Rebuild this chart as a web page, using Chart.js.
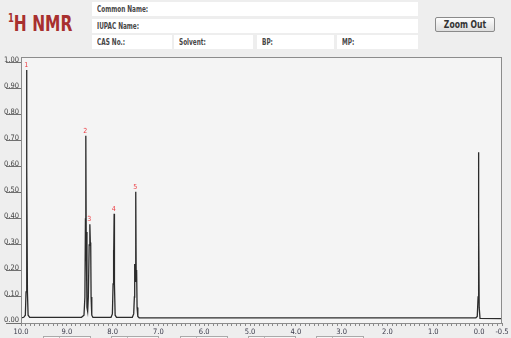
<!DOCTYPE html>
<html>
<head>
<meta charset="utf-8">
<script src="https://cdn.jsdelivr.net/npm/chart.js@4"></script>
<style>
    body { margin: 0; background: #eeeeee; font-family: "Liberation Sans Narrow", "DejaVu Sans Condensed", sans-serif; }
    #wrap { position: relative; width: 511px; height: 338px; overflow: hidden; }
    .title { position: absolute; left: 8px; top: 11px; color: #a8302f; font-weight: bold; font-size: 22px; white-space: nowrap;
             transform: scaleX(0.78); transform-origin: left top; }
    .title sup { font-size: 12px; position: relative; top: -1px; }
    .field { position: absolute; height: 14px; background: #ffffff; box-sizing: border-box; padding-left: 5px;
             font-size: 8px; line-height: 15px; }
    .field span { display: block; font-weight: bold; color: #474747; white-space: nowrap;
                  transform: scaleX(0.8); transform-origin: left center; }
    .btn { position: absolute; left: 435px; top: 17px; width: 60px; height: 15px; box-sizing: border-box; border: 1px solid #8a8a8a; border-radius: 2px;
           background: linear-gradient(#fdfdfd, #dedede); font-size: 10px; line-height: 13px; }
    .btn span { display: block; text-align: center; font-weight: bold; color: #333; transform: scaleX(0.85); }
    .stub { position: absolute; top: 336px; width: 48px; height: 10px; box-sizing: border-box; border: 1px solid #aaaaaa; background: #f7f7f7; }
    .stub::after { content: ""; position: absolute; left: 15px; top: 0; height: 10px; border-left: 1px solid #bbbbbb; }
    #chartBox { position: absolute; left: 0; top: 50px; width: 511px; height: 288px; }
</style>
</head>
<body>
<div id="wrap">
    <div class="title"><sup>1</sup>H NMR</div>
    <div class="field" style="left:92px;top:2px;width:326px;"><span>Common Name:</span></div>
    <div class="field" style="left:92px;top:19px;width:326px;"><span>IUPAC Name:</span></div>
    <div class="field" style="left:92px;top:35px;width:80px;"><span>CAS No.:</span></div>
    <div class="field" style="left:174px;top:35px;width:79px;"><span>Solvent:</span></div>
    <div class="field" style="left:257px;top:35px;width:77px;"><span>BP:</span></div>
    <div class="field" style="left:337px;top:35px;width:81px;"><span>MP:</span></div>
    <div class="btn"><span>Zoom Out</span></div>
    <div class="stub" style="left:43px;"></div>
    <div class="stub" style="left:111px;"></div>
    <div class="stub" style="left:180px;"></div>
    <div class="stub" style="left:248px;"></div>
    <div class="stub" style="left:316px;"></div>
    <div id="chartBox"><canvas id="nmrChart"></canvas></div>
</div>
<script>
// spectrum (chemical shift in ppm, relative intensity)
const shiftPpm = [
    10.00, 9.94, 9.905, 9.89, 9.88, 9.875, 9.870, 9.860, 9.845, 9.81,
    8.68, 8.625, 8.605, 8.593, 8.585, 8.577, 8.560, 8.545, 8.530, 8.512, 8.497, 8.487, 8.478, 8.470, 8.455, 8.43,
    8.035, 8.005, 7.990, 7.982, 7.975, 7.967, 7.960, 7.945, 7.915,
    7.57, 7.54, 7.525, 7.518, 7.510, 7.495, 7.485, 7.476, 7.466, 7.45, 7.42,
    0.07, 0.04, 0.022, 0.014, 0.010, 0.006, -0.002, -0.02, -0.5
];
const intensity = [
    0.020, 0.022, 0.030, 0.12, 0.60, 0.973, 0.60, 0.12, 0.030, 0.022,
    0.022, 0.030, 0.10, 0.40, 0.720, 0.35, 0.06, 0.045, 0.10, 0.30, 0.380, 0.31, 0.30, 0.10, 0.030, 0.022,
    0.022, 0.035, 0.15, 0.280, 0.22, 0.420, 0.15, 0.030, 0.022,
    0.022, 0.035, 0.10, 0.227, 0.16, 0.505, 0.16, 0.204, 0.06, 0.025, 0.020,
    0.020, 0.025, 0.10, 0.40, 0.657, 0.40, 0.06, 0.018, 0.017
];

const peakNames = ["1", "2", "3", "4", "5"];
const peakPpm = [9.875, 8.585, 8.497, 7.967, 7.495];
const peakHeight = [0.973, 0.720, 0.380, 0.420, 0.505];

const xLabelValues = [10, 9, 8, 7, 6, 5, 4, 3, 2, 1, 0, -0.5];

const frame = {
    id: "frame",
    beforeDraw(chart) {
        const { ctx, chartArea: a } = chart;
        ctx.save();
        ctx.fillStyle = "#f4f4f4";
        ctx.fillRect(a.left, a.top, a.right - a.left, a.bottom - a.top);
        ctx.restore();
    },
    afterDraw(chart) {
        const { ctx, chartArea: a } = chart;
        ctx.save();
        ctx.strokeStyle = "#8c8c8c";
        ctx.lineWidth = 1;
        ctx.strokeRect(a.left + 0.5, a.top + 0.5, a.right - a.left - 1, a.bottom - a.top);
        // peak numbers
        const xs = chart.scales.x, ys = chart.scales.y;
        ctx.fillStyle = "#ec3a40";
        ctx.font = "7px 'Liberation Sans Narrow', 'DejaVu Sans Condensed', sans-serif";
        ctx.textAlign = "center";
        ctx.textBaseline = "middle";
        peakNames.forEach((n, i) => {
            ctx.fillText(n, xs.getPixelForValue(peakPpm[i]) - 0.5, ys.getPixelForValue(peakHeight[i]) - 5);
        });
        ctx.restore();
    }
};

const axisFont = { family: "'Liberation Sans Narrow', 'DejaVu Sans Condensed', sans-serif", size: 7.5 };

new Chart(document.getElementById("nmrChart"), {
    type: "scatter",
    data: {
        datasets: [{
            data: shiftPpm.map((p, i) => ({ x: p, y: intensity[i] })),
            showLine: true,
            borderColor: "#2b2b2b",
            borderWidth: 1.3,
            pointRadius: 0,
            tension: 0
        }]
    },
    options: {
        responsive: true,
        maintainAspectRatio: false,
        animation: false,
        layout: { padding: { top: 7, right: 9, left: 0, bottom: 0 } },
        plugins: { legend: { display: false }, tooltip: { enabled: false } },
        scales: {
            x: {
                type: "linear",
                reverse: true,
                min: -0.5,
                max: 10,
                afterFit: s => { s.height = 15; },
                border: { display: false },
                grid: { drawOnChartArea: false, drawTicks: true, tickLength: 3, color: "#8a8a8a" },
                ticks: {
                    stepSize: 0.1,
                    autoSkip: false,
                    maxRotation: 0,
                    includeBounds: false,
                    padding: 2,
                    color: "#3a3a4a",
                    font: axisFont,
                    callback: v => xLabelValues.some(t => Math.abs(t - v) < 1e-6) ? v.toFixed(1) : ""
                }
            },
            y: {
                min: 0,
                max: 1.023,
                afterFit: s => { s.width = 21; },
                border: { display: false },
                grid: { drawOnChartArea: false, drawTicks: true, tickLength: 15, color: "#707070" },
                ticks: {
                    stepSize: 0.1,
                    includeBounds: false,
                    padding: -13,
                    labelOffset: -3,
                    color: "#444",
                    font: axisFont,
                    callback: v => v.toFixed(2)
                }
            }
        }
    },
    plugins: [frame]
});
</script>
</body>
</html>
